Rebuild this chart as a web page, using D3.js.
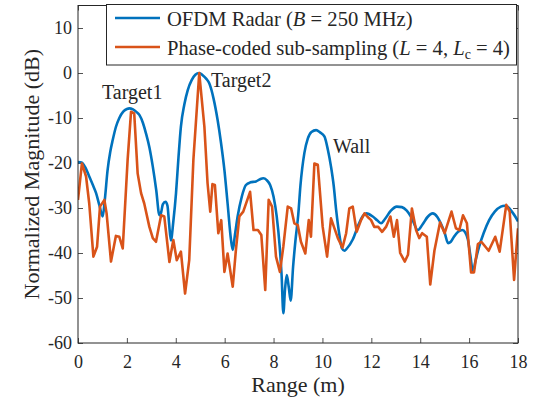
<!DOCTYPE html>
<html>
<head>
<meta charset="utf-8">
<script src="https://cdn.jsdelivr.net/npm/d3@7"></script>
<style>
  html, body { margin: 0; padding: 0; background: #fff; }
  svg { display: block; }
  text { font-family: "Liberation Serif", "Times New Roman", serif; fill: #262626; }
</style>
</head>
<body>
<svg id="chart" width="543" height="408"></svg>
<script>
// OFDM radar range profile (smooth curve)
const ofdmRange = [0.00,0.15,0.30,0.46,0.60,0.74,0.88,1.01,1.10,1.21,1.32,1.42,1.55,1.69,1.85,2.00,2.10,2.25,2.40,2.51,2.65,2.78,2.92,3.06,3.20,3.33,3.40,3.47,3.58,3.66,3.72,3.80,3.90,4.01,4.11,4.21,4.35,4.49,4.65,4.80,4.96,5.10,5.25,5.37,5.55,5.71,5.85,5.99,6.12,6.26,6.33,6.42,6.53,6.70,6.87,7.05,7.28,7.45,7.58,7.72,7.86,8.00,8.13,8.25,8.33,8.40,8.47,8.54,8.62,8.70,8.80,8.90,9.01,9.10,9.26,9.40,9.55,9.74,9.90,10.08,10.22,10.35,10.46,10.56,10.68,10.80,10.90,11.00,11.24,11.50,11.65,11.80,12.06,12.25,12.40,12.55,12.80,13.04,13.25,13.45,13.65,13.90,14.10,14.30,14.51,14.70,14.84,15.00,15.14,15.25,15.38,15.55,15.72,15.85,15.95,16.05,16.16,16.25,16.41,16.60,16.82,17.05,17.30,17.45,17.57,17.75,17.90,18.00];
const ofdmDb = [-19.8,-19.9,-21,-23,-24.8,-26.7,-29.5,-31.9,-28,-21.6,-17.5,-14.9,-12,-10,-8.6,-8.0,-7.85,-8.1,-8.7,-9.3,-11,-13.4,-16.5,-20.8,-26,-31.6,-31,-29.2,-28.6,-29.5,-33,-37.2,-33,-26.7,-18.8,-11.9,-7,-3.8,-1.6,-0.4,0,-0.5,-1.3,-2.3,-5.8,-10.4,-15.5,-21.6,-29,-37.1,-39.3,-36,-31.9,-27.5,-24.9,-24.3,-24.1,-23.6,-23.4,-23.8,-24.9,-27.5,-31.9,-38.5,-45,-53.4,-48,-44.9,-47.5,-50.6,-43,-37,-31.5,-25,-17.8,-14.6,-13.1,-12.7,-13.2,-14.1,-17,-20.8,-25,-30.4,-35.5,-39,-39.5,-39,-37,-33.4,-31.8,-31.2,-31.9,-32.8,-33.4,-32.5,-30.6,-29.7,-29.8,-30.6,-32.2,-34.9,-33.6,-32,-31.2,-32,-33.4,-35.5,-37.8,-37.5,-36.4,-35.3,-34.9,-35.5,-37,-40.5,-44.2,-42,-38.6,-35.5,-32.7,-30.8,-29.7,-29.5,-29.7,-30.8,-32,-33];

// Phase-coded sub-sampling range profile (L = 4, Lc = 4)
const pcssRange = [0.00,0.16,0.33,0.46,0.63,0.78,0.90,1.08,1.17,1.35,1.55,1.69,1.83,2.03,2.17,2.30,2.44,2.58,2.71,2.92,3.06,3.19,3.40,3.53,3.74,3.90,4.04,4.21,4.38,4.55,4.72,4.96,5.17,5.30,5.41,5.50,5.60,5.74,5.86,5.99,6.12,6.33,6.46,6.60,6.76,7.04,7.18,7.36,7.50,7.66,7.80,7.94,8.10,8.26,8.40,8.58,8.72,8.85,8.99,9.12,9.30,9.44,9.53,9.67,9.81,10.01,10.19,10.35,10.63,10.82,10.97,11.10,11.24,11.40,11.58,11.72,11.85,11.99,12.12,12.28,12.44,12.60,12.78,12.92,13.05,13.18,13.37,13.50,13.66,13.83,13.96,14.08,14.27,14.41,14.58,14.81,15.00,15.28,15.46,15.60,15.75,15.91,16.08,16.20,16.36,16.50,16.80,17.07,17.25,17.52,17.66,17.84,17.97,18.00];
const pcssDb = [-28.2,-20.1,-23,-29,-40.8,-38.6,-29.7,-28.2,-31.2,-41.9,-36.2,-36.4,-39,-19.3,-8.6,-9,-22.3,-26.7,-29,-34.2,-36.7,-37.5,-31.6,-31.9,-42,-37.1,-41.6,-39.7,-49,-41.6,-19.3,0,-11.9,-24.5,-30.8,-24.7,-24.9,-35.6,-32.7,-44.2,-40.1,-47.5,-39.3,-31.9,-30.8,-26.4,-34.9,-34.9,-36,-48.2,-28.2,-29.7,-40.8,-44.2,-38.6,-29.7,-30.1,-33.4,-33.8,-37.5,-40.1,-32.7,-36.4,-20.1,-20.4,-34.2,-40.8,-32.3,-36.7,-38.8,-35.6,-30.1,-29.7,-35.3,-32.7,-31.2,-32,-32.7,-34.2,-34.2,-35.3,-34.2,-31.9,-36.4,-32.7,-40,-41.9,-40.4,-30.1,-34.9,-36.7,-35.6,-36.4,-47,-39.5,-33.2,-35.6,-30.8,-34.5,-34.9,-31.6,-33.4,-44.3,-44.3,-38,-37.5,-39.5,-36.4,-39.7,-29.3,-30.8,-46,-36.4,-34.5];

// Axis ticks
const xTicks = [0, 2, 4, 6, 8, 10, 12, 14, 16, 18];
const yTicks = [-60, -50, -40, -30, -20, -10, 0, 10];

// Peak annotations: [text, range (m), dB at baseline]
const annoText = ["Target1", "Target2", "Wall"];
const annoRange = [0.98, 5.44, 10.43];
const annoDb = [-5.8, -3.1, -17.8];

const W = 543, H = 408;
const margin = { left: 78, right: 25, top: 5.5, bottom: 65 };
const innerW = W - margin.left - margin.right;
const innerH = H - margin.top - margin.bottom;

const svg = d3.select("#chart");
const g = svg.append("g").attr("transform", `translate(${margin.left},${margin.top})`);

const x = d3.scaleLinear().domain([0, 18]).range([0, innerW]);
const y = d3.scaleLinear().domain([-60, 15]).range([innerH, 0]);

const axisColor = "#262626";
const tick = 5;

// Bottom axis with inward ticks and labels
const xAxis = g.append("g").attr("transform", `translate(0,${innerH})`)
  .call(d3.axisBottom(x).tickValues(xTicks).tickSize(-tick).tickPadding(12).tickFormat(d3.format("d")));
// Left axis with inward ticks and labels
const yAxis = g.append("g")
  .call(d3.axisLeft(y).tickValues(yTicks).tickSize(-tick).tickPadding(6).tickFormat(d3.format("d")));
// Mirrored ticks on top and right
const xTop = g.append("g").call(d3.axisTop(x).tickValues(xTicks).tickSize(-tick).tickFormat(""));
const yRight = g.append("g").attr("transform", `translate(${innerW},0)`)
  .call(d3.axisRight(y).tickValues(yTicks).tickSize(-tick).tickFormat(""));

[xAxis, yAxis, xTop, yRight].forEach(a => {
  a.select(".domain").remove();
  a.selectAll("line").attr("stroke", axisColor).attr("stroke-width", 0.8);
  a.selectAll("text").attr("font-size", 18).attr("fill", axisColor)
    .style("font-family", '"Liberation Serif", "Times New Roman", serif');
});
yAxis.selectAll("text").text(d => d < 0 ? "-" + Math.abs(d) : d);

// Lines
const ofdmData = ofdmRange.map((r, i) => [r, ofdmDb[i]]);
const pcssData = pcssRange.map((r, i) => [r, pcssDb[i]]);

g.append("clipPath").attr("id", "plotClip")
  .append("rect").attr("width", innerW).attr("height", innerH);

const plot = g.append("g").attr("clip-path", "url(#plotClip)");

plot.append("path").datum(ofdmData)
  .attr("fill", "none").attr("stroke", "#0072BD").attr("stroke-width", 2.6)
  .attr("stroke-linejoin", "round")
  .attr("d", d3.line().x(d => x(d[0])).y(d => y(d[1])).curve(d3.curveMonotoneX));

plot.append("path").datum(pcssData)
  .attr("fill", "none").attr("stroke", "#D95319").attr("stroke-width", 2.6)
  .attr("stroke-linejoin", "round")
  .attr("d", d3.line().x(d => x(d[0])).y(d => y(d[1])));

// Box
g.append("rect").attr("width", innerW).attr("height", innerH)
  .attr("fill", "none").attr("stroke", axisColor).attr("stroke-width", 1);

// Annotations
annoText.forEach((t, i) => {
  g.append("text").attr("x", x(annoRange[i])).attr("y", y(annoDb[i]))
    .attr("font-size", 20).text(t);
});

// Axis titles
svg.append("text")
  .attr("x", margin.left + innerW / 2).attr("y", 392)
  .attr("text-anchor", "middle").attr("font-size", 22)
  .text("Range (m)");

svg.append("text")
  .attr("transform", `translate(39,${margin.top + innerH / 2}) rotate(-90)`)
  .attr("text-anchor", "middle").attr("font-size", 22)
  .text("Normalized Magnitude (dB)");

// Legend
const leg = svg.append("g");
leg.append("rect").attr("x", 106.5).attr("y", 4.5).attr("width", 410).attr("height", 60.5)
  .attr("fill", "#fff").attr("stroke", axisColor).attr("stroke-width", 1);

const legY = [18, 47];
leg.append("line").attr("x1", 115).attr("x2", 160).attr("y1", legY[0]).attr("y2", legY[0])
  .attr("stroke", "#0072BD").attr("stroke-width", 2.6);
leg.append("line").attr("x1", 115).attr("x2", 160).attr("y1", legY[1]).attr("y2", legY[1])
  .attr("stroke", "#D95319").attr("stroke-width", 2.6);

const t1 = leg.append("text").attr("x", 167).attr("y", legY[0] + 8).attr("font-size", 20.6);
t1.append("tspan").text("OFDM Radar (");
t1.append("tspan").attr("font-style", "italic").text("B");
t1.append("tspan").text(" = 250 MHz)");

const t2 = leg.append("text").attr("x", 167).attr("y", legY[1] + 8).attr("font-size", 20.6);
t2.append("tspan").text("Phase-coded sub-sampling (");
t2.append("tspan").attr("font-style", "italic").text("L");
t2.append("tspan").text(" = 4, ");
t2.append("tspan").attr("font-style", "italic").text("L");
t2.append("tspan").attr("font-size", 14).attr("dy", 4).text("c");
t2.append("tspan").attr("dy", -4).text(" = 4)");
</script>
</body>
</html>
